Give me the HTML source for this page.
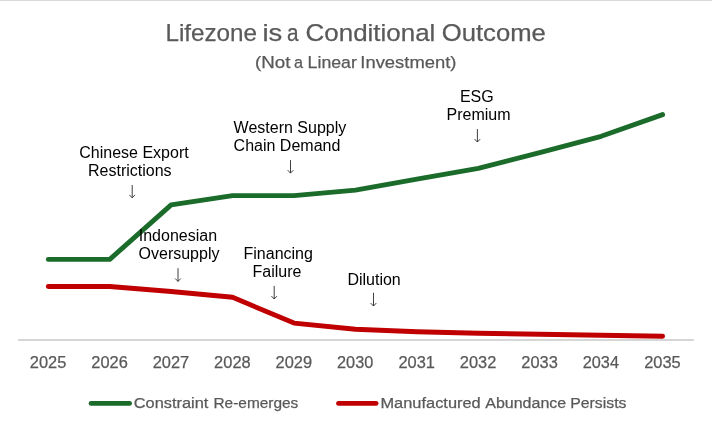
<!DOCTYPE html>
<html><head><meta charset="utf-8"><title>Lifezone is a Conditional Outcome</title>
<style>html,body{margin:0;padding:0;background:#fff;}body{width:712px;height:429px;overflow:hidden;font-family:"Liberation Sans",sans-serif;}svg{display:block;will-change:transform}</style>
</head><body>
<svg width="712" height="429" viewBox="0 0 712 429" font-family="'Liberation Sans', sans-serif">
<rect x="0" y="0" width="712" height="429" fill="#fff"/>
<line x1="0" y1="0.5" x2="712" y2="0.5" stroke="#D9D9D9" stroke-width="1"/>
<line x1="18" y1="340" x2="693.8" y2="340" stroke="#D6D6D6" stroke-width="2"/>
<text x="165.42" y="40.6" font-size="24.5" fill="#595959" stroke="#595959" stroke-width="0.25" textLength="91.61" lengthAdjust="spacingAndGlyphs">Lifezone</text>
<text x="262.42" y="40.6" font-size="24.5" fill="#595959" stroke="#595959" stroke-width="0.25" textLength="19.85" lengthAdjust="spacingAndGlyphs">is</text>
<text x="286.95" y="40.6" font-size="24.5" fill="#595959" stroke="#595959" stroke-width="0.25" textLength="11.55" lengthAdjust="spacingAndGlyphs">a</text>
<text x="305.58" y="40.6" font-size="24.5" fill="#595959" stroke="#595959" stroke-width="0.25" textLength="129.81" lengthAdjust="spacingAndGlyphs">Conditional</text>
<text x="441.75" y="40.6" font-size="24.5" fill="#595959" stroke="#595959" stroke-width="0.25" textLength="104.06" lengthAdjust="spacingAndGlyphs">Outcome</text>
<text x="255.11" y="68.25" font-size="17.2" fill="#595959" stroke="#595959" stroke-width="0.25" textLength="35.37" lengthAdjust="spacingAndGlyphs">(Not</text>
<text x="294.09" y="68.25" font-size="17.2" fill="#595959" stroke="#595959" stroke-width="0.25" textLength="9.03" lengthAdjust="spacingAndGlyphs">a</text>
<text x="307.61" y="68.25" font-size="17.2" fill="#595959" stroke="#595959" stroke-width="0.25" textLength="49.28" lengthAdjust="spacingAndGlyphs">Linear</text>
<text x="360.29" y="68.25" font-size="17.2" fill="#595959" stroke="#595959" stroke-width="0.25" textLength="96.23" lengthAdjust="spacingAndGlyphs">Investment)</text>
<text x="29.85" y="368.3" font-size="16.4" fill="#595959" stroke="#595959" stroke-width="0.25" textLength="36.52" lengthAdjust="spacingAndGlyphs">2025</text>
<text x="91.28" y="368.3" font-size="16.4" fill="#595959" stroke="#595959" stroke-width="0.25" textLength="36.52" lengthAdjust="spacingAndGlyphs">2026</text>
<text x="152.71" y="368.3" font-size="16.4" fill="#595959" stroke="#595959" stroke-width="0.25" textLength="36.52" lengthAdjust="spacingAndGlyphs">2027</text>
<text x="214.14" y="368.3" font-size="16.4" fill="#595959" stroke="#595959" stroke-width="0.25" textLength="36.52" lengthAdjust="spacingAndGlyphs">2028</text>
<text x="275.57" y="368.3" font-size="16.4" fill="#595959" stroke="#595959" stroke-width="0.25" textLength="36.52" lengthAdjust="spacingAndGlyphs">2029</text>
<text x="337.00" y="368.3" font-size="16.4" fill="#595959" stroke="#595959" stroke-width="0.25" textLength="36.26" lengthAdjust="spacingAndGlyphs">2030</text>
<text x="398.43" y="368.3" font-size="16.4" fill="#595959" stroke="#595959" stroke-width="0.25" textLength="36.52" lengthAdjust="spacingAndGlyphs">2031</text>
<text x="459.86" y="368.3" font-size="16.4" fill="#595959" stroke="#595959" stroke-width="0.25" textLength="36.52" lengthAdjust="spacingAndGlyphs">2032</text>
<text x="521.29" y="368.3" font-size="16.4" fill="#595959" stroke="#595959" stroke-width="0.25" textLength="36.52" lengthAdjust="spacingAndGlyphs">2033</text>
<text x="582.72" y="368.3" font-size="16.4" fill="#595959" stroke="#595959" stroke-width="0.25" textLength="36.26" lengthAdjust="spacingAndGlyphs">2034</text>
<text x="644.15" y="368.3" font-size="16.4" fill="#595959" stroke="#595959" stroke-width="0.25" textLength="36.52" lengthAdjust="spacingAndGlyphs">2035</text>
<text x="133.80" y="407.7" font-size="15.3" fill="#595959" stroke="#595959" stroke-width="0.25" textLength="74.57" lengthAdjust="spacingAndGlyphs">Constraint</text>
<text x="213.44" y="407.7" font-size="15.3" fill="#595959" stroke="#595959" stroke-width="0.25" textLength="84.89" lengthAdjust="spacingAndGlyphs">Re-emerges</text>
<text x="380.46" y="407.7" font-size="15.3" fill="#595959" stroke="#595959" stroke-width="0.25" textLength="100.26" lengthAdjust="spacingAndGlyphs">Manufactured</text>
<text x="485.20" y="407.7" font-size="15.3" fill="#595959" stroke="#595959" stroke-width="0.25" textLength="81.09" lengthAdjust="spacingAndGlyphs">Abundance</text>
<text x="570.31" y="407.7" font-size="15.3" fill="#595959" stroke="#595959" stroke-width="0.25" textLength="56.11" lengthAdjust="spacingAndGlyphs">Persists</text>
<polyline points="48.30,259.40 109.73,259.40 171.16,204.80 232.59,195.60 294.02,195.60 355.45,190.10 416.88,179.20 478.31,168.40 539.74,152.60 601.17,136.30 662.60,114.60" fill="none" stroke="#1B6B2A" stroke-width="4.9" stroke-linecap="round" stroke-linejoin="round"/>
<polyline points="48.30,286.50 109.73,286.50 171.16,291.50 232.59,297.30 294.02,323.10 355.45,329.20 416.88,331.70 478.31,333.20 539.74,334.20 601.17,335.20 662.60,336.20" fill="none" stroke="#C00000" stroke-width="4.9" stroke-linecap="round" stroke-linejoin="round"/>
<line x1="91.10" y1="403.4" x2="129.55" y2="403.4" stroke="#1B6B2A" stroke-width="4.9" stroke-linecap="round"/>
<line x1="338.55" y1="403.4" x2="376.05" y2="403.4" stroke="#C00000" stroke-width="4.9" stroke-linecap="round"/>
<text x="233.6" y="133.0" font-size="16" fill="#000" text-anchor="start">Western Supply</text>
<text x="233.6" y="151.0" font-size="16" fill="#000" text-anchor="start">Chain Demand</text>
<g stroke="#2a2a2a" stroke-width="0.9" fill="none"><line x1="290.5" y1="160.1" x2="290.5" y2="173.1"/><polyline points="287.7,170.2 290.5,173.1 293.3,170.2"/></g>
<text x="476.8" y="101.6" font-size="16" fill="#000" text-anchor="middle">ESG</text>
<text x="478.5" y="119.6" font-size="16" fill="#000" text-anchor="middle">Premium</text>
<g stroke="#2a2a2a" stroke-width="0.9" fill="none"><line x1="477.4" y1="129" x2="477.4" y2="142"/><polyline points="474.59999999999997,139.1 477.4,142 480.2,139.1"/></g>
<text x="134.0" y="157.5" font-size="16" fill="#000" text-anchor="middle">Chinese Export</text>
<text x="129.8" y="175.5" font-size="16" fill="#000" text-anchor="middle">Restrictions</text>
<g stroke="#2a2a2a" stroke-width="0.9" fill="none"><line x1="132.2" y1="185" x2="132.2" y2="197.8"/><polyline points="129.39999999999998,194.9 132.2,197.8 135.0,194.9"/></g>
<text x="177.9" y="240.6" font-size="16" fill="#000" text-anchor="middle">Indonesian</text>
<text x="179" y="258.6" font-size="16" fill="#000" text-anchor="middle">Oversupply</text>
<g stroke="#2a2a2a" stroke-width="0.9" fill="none"><line x1="178" y1="268.2" x2="178" y2="281.4"/><polyline points="175.2,278.5 178,281.4 180.8,278.5"/></g>
<text x="278.2" y="258.7" font-size="16" fill="#000" text-anchor="middle">Financing</text>
<text x="277" y="276.7" font-size="16" fill="#000" text-anchor="middle">Failure</text>
<g stroke="#2a2a2a" stroke-width="0.9" fill="none"><line x1="274.2" y1="285.9" x2="274.2" y2="299"/><polyline points="271.4,296.1 274.2,299 277.0,296.1"/></g>
<text x="374.1" y="284.5" font-size="16" fill="#000" text-anchor="middle">Dilution</text>
<g stroke="#2a2a2a" stroke-width="0.9" fill="none"><line x1="373.5" y1="292.8" x2="373.5" y2="306"/><polyline points="370.7,303.1 373.5,306 376.3,303.1"/></g>
</svg>
</body></html>
